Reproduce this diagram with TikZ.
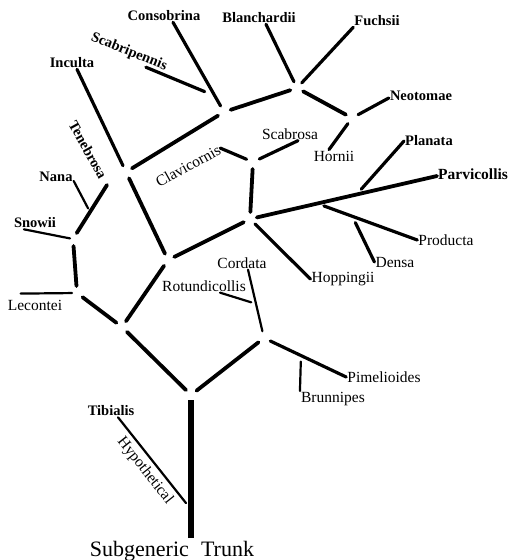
\documentclass[tikz,border=0pt]{standalone}
\usepackage{fontspec}
\setmainfont{Liberation Serif}
\usetikzlibrary{calc,positioning}

\tikzset{
  br/.style={line width=3.8pt, line cap=round, shorten <=7pt, shorten >=7pt},
  tw/.style={line width=3.2pt, line cap=round, shorten <=7pt},
  hair/.style={line width=2.2pt, line cap=round},
  lab/.style={inner sep=1pt, font=\fontsize{15.5}{16}\selectfont},
  blab/.style={inner sep=1pt, font=\fontsize{14.5}{15}\selectfont\bfseries},
}

\begin{document}
\begin{tikzpicture}[x=1pt,y=-1pt]
  \useasboundingbox (0,0) rectangle (511,560);

  % junctions of the tree
  \coordinate (base) at (191,538);
  \coordinate (Y) at (191,395);
  \coordinate (A) at (122,327);
  \coordinate (J) at (77,293);
  \coordinate (I) at (73,239);
  \coordinate (K) at (107,185);
  \coordinate (B) at (168,260);
  \coordinate (C) at (126,172);
  \coordinate (F) at (224,112);
  \coordinate (G) at (297,88);
  \coordinate (H) at (352,118);
  \coordinate (D) at (250,219);
  \coordinate (E) at (253,162);
  \coordinate (L) at (264,338);

  % species names
  \node[blab] (consobrina) at (164,16) {Consobrina};
  \node[blab] (blanchardii) at (259,18) {Blanchardii};
  \node[blab] (fuchsii) at (377,21) {Fuchsii};
  \node[blab, rotate=-22] (scabripennis) at (129,52) {Scabripennis};
  \node[blab] (inculta) at (72,63) {Inculta};
  \node[blab] (neotomae) at (421,96) {Neotomae};
  \node[lab] (scabrosa) at (290,134) {Scabrosa};
  \node[lab] (hornii) at (334,156) {Hornii};
  \node[blab] (planata) at (429,141) {Planata};
  \node[blab, anchor=west, font=\fontsize{15.5}{16}\selectfont\bfseries] (parvicollis) at (437,174) {Parvicollis};
  \node[lab, rotate=29] (clavicornis) at (188,166) {Clavicornis};
  \node[blab, rotate=-61] (tenebrosa) at (88,150) {Tenebrosa};
  \node[blab] (nana) at (56,177) {Nana};
  \node[blab] (snowii) at (35,223) {Snowii};
  \node[lab] (lecontei) at (35,305) {Lecontei};
  \node[lab] (cordata) at (242,263) {Cordata};
  \node[lab] (rotundicollis) at (204,286) {Rotundicollis};
  \node[lab] (hoppingii) at (343,279) {Hoppingii};
  \node[lab] (producta) at (446,240) {Producta};
  \node[lab] (densa) at (395,262) {Densa};
  \node[lab] (pimelioides) at (384,377) {Pimelioides};
  \node[lab] (brunnipes) at (333,399) {Brunnipes};
  \node[blab] (tibialis) at (111,411) {Tibialis};
  \node[font=\fontsize{22}{23}\selectfont, anchor=base] (trunk) at (172,556) {Subgeneric\hspace{0.55em}Trunk};

  % trunk and first fork
  \draw[line width=6.5pt, shorten >=5pt] (base) -- (Y);
  \draw[br] (Y) -- (A);
  \draw[br] (Y) -- (L);

  % left side
  \draw[br] (A) -- (J);
  \draw[br] (J) -- (I);
  \draw[br, shorten >=0pt] (I) -- (K);
  \draw[hair, shorten <=5pt] (J) -- ([shift={(14pt,5pt)}]lecontei.north west);
  \draw[hair, shorten >=3pt] ([xshift=11pt]snowii.south west) -- (I);
  \draw[hair, shorten >=4pt] ([yshift=2pt]nana.south east) -- ($(I)!0.5!(K)$);

  % upper left
  \draw[br] (A) -- (B);
  \draw[br] (C) -- (B);
  \draw[tw] (C) -- ([xshift=5pt]inculta.south);
  \draw[br] (C) -- (F);
  \draw[tw] (F) -- ([xshift=9pt]consobrina.south);
  \coordinate (S) at ($(F)!0.18!([xshift=9pt]consobrina.south)$);
  \draw[tw, shorten <=11pt] (S) -- (scabripennis.-20);

  % top right
  \draw[br] (F) -- (G);
  \draw[tw] (G) -- ([xshift=7pt]blanchardii.south);
  \draw[tw] (G) -- (fuchsii.south west);
  \draw[br] (G) -- (H);
  \draw[tw] (H) -- ([yshift=-2pt]neotomae.west);
  \draw[tw] (H) -- ([xshift=-5pt]hornii.north);

  % middle
  \draw[br] (B) -- (D);
  \draw[br] (D) -- (E);
  \draw[tw] (E) -- (clavicornis.east);
  \draw[tw] (E) -- ([xshift=8pt]scabrosa.south);
  \draw[tw] (D) -- (hoppingii.west);
  \draw[tw, line width=3.8pt] (D) -- ([yshift=-2pt]parvicollis.west);
  \coordinate (pl) at ($(D)!0.57!([yshift=-2pt]parvicollis.west)$);
  \coordinate (pr) at ($(D)!0.36!([yshift=-2pt]parvicollis.west)$);
  \draw[tw] (pl) -- (planata.west);
  \draw[tw] (pr) -- (producta.west);
  \coordinate (de) at ($(pr)!0.35!(producta.west)$);
  \draw[tw] (de) -- (densa.west);

  % lower right
  \draw[hair, shorten <=7pt] (L) -- ([xshift=6pt]cordata.south);
  \coordinate (ro) at ($(L)!0.5!([xshift=6pt]cordata.south)$);
  \draw[hair, shorten >=5pt] ([xshift=16pt]rotundicollis.south) -- (ro);
  \draw[tw] (L) -- (pimelioides.west);
  \coordinate (bp) at ($(L)!0.45!(pimelioides.west)$);
  \draw[hair, shorten <=6pt] (bp) -- (brunnipes.north west);

  % hypothetical stem
  \coordinate (tj) at ($(base)!0.2!(Y)$);
  \draw[hair, shorten >=8pt] ([xshift=7pt]tibialis.south) -- node[lab, sloped, below=3pt] (hypothetical) {Hypothetical} (tj);
\end{tikzpicture}
\end{document}
